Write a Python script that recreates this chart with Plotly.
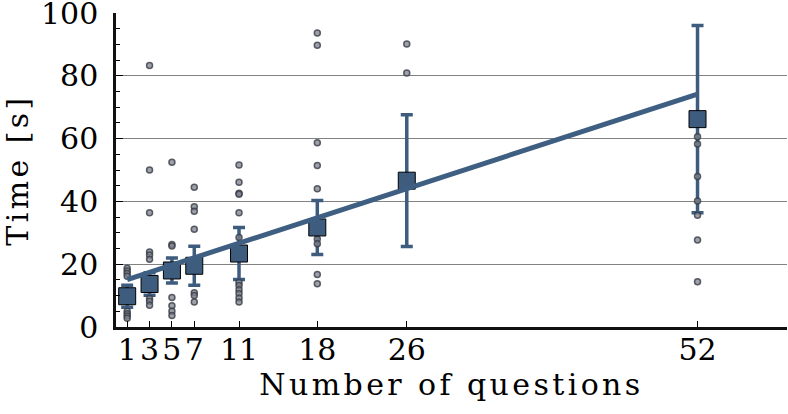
import plotly.graph_objects as go

# group sizes (number of questions) and summary stats
n_questions = [1, 3, 5, 7, 11, 18, 26, 52]
mean_time = [9.8, 13.7, 18.0, 19.5, 23.4, 31.7, 46.6, 66.2]
err_time = [3.5, 3.6, 4.0, 6.2, 8.3, 8.6, 21.0, 29.8]

# individual measurements per group
raw_times = {
    1: [18.7, 17.8, 17.0, 16.2, 5.0, 4.2, 3.5, 2.8],
    3: [83.3, 50.0, 36.4, 23.9, 22.9, 21.6, 9.1, 8.2, 6.9],
    5: [52.5, 26.3, 25.8, 9.4, 6.8, 5.0, 3.7],
    7: [44.5, 38.3, 36.9, 31.1, 10.9, 10.0, 8.0],
    11: [51.6, 46.1, 42.6, 42.3, 36.4, 28.5, 14.2, 13.2, 11.9, 10.7, 9.2, 8.0],
    18: [93.6, 89.7, 58.7, 51.4, 44.0, 28.0, 26.5, 16.7, 13.8],
    26: [90.1, 80.9],
    52: [60.6, 58.3, 47.9, 40.1, 35.6, 27.7, 14.4],
}

# linear fit end points
fit_x = [1, 52]
fit_y = [15.1, 74.2]

y_ticks = [0, 20, 40, 60, 80, 100]

blue = "#3e5c7e"
font = "DejaVu Serif"

pts_x = []
pts_y = []
for k, vals in raw_times.items():
    pts_x += [k] * len(vals)
    pts_y += vals

fig = go.Figure()

# error bars only
fig.add_trace(go.Scatter(
    x=n_questions, y=mean_time, mode="markers",
    marker=dict(size=1, color="rgba(0,0,0,0)"),
    error_y=dict(type="data", array=err_time, color=blue, thickness=3.5, width=6),
    showlegend=False,
))

# raw points
fig.add_trace(go.Scatter(
    x=pts_x, y=pts_y, mode="markers",
    marker=dict(size=6, color="rgba(125,130,140,0.75)",
                line=dict(color="rgba(55,60,70,0.8)", width=1.5)),
    showlegend=False,
))

# mean squares
fig.add_trace(go.Scatter(
    x=n_questions, y=mean_time, mode="markers",
    marker=dict(symbol="square", size=17, color=blue, line=dict(color="black", width=1)),
    showlegend=False,
))

# fit line
fig.add_trace(go.Scatter(
    x=fit_x, y=fit_y, mode="lines",
    line=dict(color="#3f5f82", width=5),
    showlegend=False,
))

fig.update_layout(
    width=788, height=414,
    margin=dict(l=116, r=1, t=13, b=87),
    plot_bgcolor="white", paper_bgcolor="white",
    font=dict(family=font, size=30, color="black"),
)

fig.update_xaxes(
    range=[0, 60], tickvals=n_questions, ticktext=[str(v) for v in n_questions],
    ticks="inside", ticklen=6, tickwidth=1.2, tickcolor="black",
    showline=True, linecolor="#111", linewidth=2.5,
    showgrid=False, zeroline=False, automargin=False,
    ticklabeloverflow="allow", ticklabelstandoff=-6,
    title=dict(text="Number of questions", font=dict(size=30), standoff=2),
)

fig.update_yaxes(
    range=[0, 100], tickvals=y_ticks,
    ticks="inside", ticklen=7, tickwidth=1.2, tickcolor="black",
    minor=dict(dtick=5, ticks="inside", ticklen=4, tickcolor="black", showgrid=False),
    showline=True, linecolor="#111", linewidth=2.5,
    showgrid=True, gridcolor="#828282", gridwidth=1.3, zeroline=False,
    automargin=False, ticklabeloverflow="allow", ticklabelstandoff=9,
    title=dict(text="Time [s]", font=dict(size=30), standoff=14),
)

# no page margin, and the wider letter spacing of the axis titles
post = (
    "document.body.style.margin='0';"
    "var s=document.createElement('style');"
    "s.textContent='.xtitle,.ytitle{letter-spacing:3.4px}';"
    "document.head.appendChild(s);"
)

fig.write_html("out.html", post_script=post, config={"displayModeBar": False})
